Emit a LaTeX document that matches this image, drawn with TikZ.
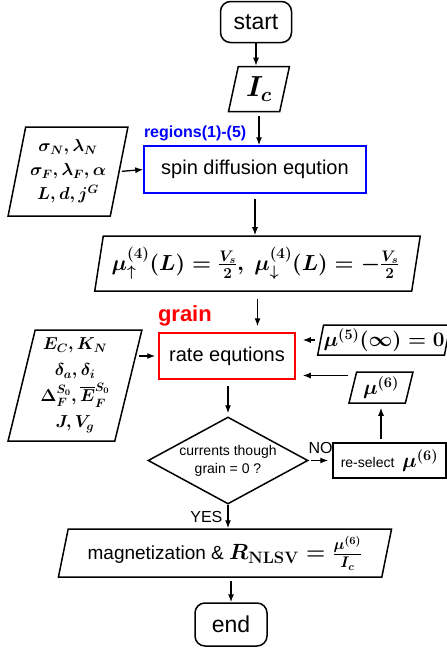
\RequirePackage{fix-cm}
\documentclass[tikz,border=0pt]{standalone}
\usepackage{amsmath,amssymb}
\usepackage[no-math]{fontspec}
\setmainfont{Liberation Sans}
\usepackage{tikz}
\usetikzlibrary{arrows.meta,positioning,shapes.geometric,calc}

\begin{document}
\begin{tikzpicture}[
    x=1pt, y=-1pt,
    line width=1.5pt,
    >={Latex[length=8pt,width=6pt]},
    terminal/.style={draw, rounded corners=10pt, inner sep=0pt, font=\fontsize{23}{27}\selectfont},
    process/.style={draw, inner sep=0pt, font=\fontsize{20}{24}\selectfont},
    io/.style={draw, trapezium, trapezium left angle=76, trapezium right angle=104, trapezium stretches,
               inner sep=0pt, align=center, font=\fontsize{17.3}{24}\selectfont\boldmath},
    decision/.style={draw, diamond, aspect=1.84, inner sep=0pt, align=center, font=\fontsize{14}{18}\selectfont},
    tag/.style={inner sep=0pt, font=\fontsize{16}{19}\selectfont\bfseries},
    lbl/.style={inner sep=0pt, font=\fontsize{16}{19}\selectfont},
    arr/.style={->, line width=1.3pt}
]
    \useasboundingbox (0,0) rectangle (447,651);

    % Main chain
    \node[terminal, minimum width=71pt, minimum height=41pt] (start) at (256,22) {start};
    \node[io, minimum width=61pt, minimum height=45pt, font=\fontsize{29}{32}\selectfont\boldmath] (current) at (259,89) {$I_c$};
    \node[process, draw=blue, minimum width=222pt, minimum height=47pt] (diffusion) at (255,169.5) {spin diffusion eqution};
    \node[io, minimum width=327pt, minimum height=55pt, font=\fontsize{21.8}{26}\selectfont\boldmath] (boundary) at (257.5,263.5)
        {$\mu^{\mathbf{(4)}}_{\uparrow}(L)=\frac{V_s}{\mathbf{2}},\ \mu^{\mathbf{(4)}}_{\downarrow}(L)=-\frac{V_s}{\mathbf{2}}$\hspace{4pt}};
    \node[process, draw=red, minimum width=136pt, minimum height=46pt] (rate) at (227,356) {rate equtions};
    \node[decision, minimum width=160pt, minimum height=87pt] (check) at (228,460.5) {currents though\\grain = 0 ?};
    \node[io, minimum width=334pt, minimum height=48pt, font=\fontsize{19}{22}\selectfont\boldmath] (result) at (225,553)
        {\mdseries magnetization \& {\fontsize{22}{24}\selectfont$R_{\mbox{\fontsize{16.5}{17}\selectfont$\mathbf{NLSV}$}}=\frac{\mu^{\mathbf{(6)}}}{I_c}$}};
    \node[terminal, minimum width=72pt, minimum height=43pt] (end) at (231,624.5) {end};

    % Inputs on the left
    \node[io, minimum width=120pt, minimum height=89pt] (paramsN) at (68,171.5)
        {$\sigma_N,\lambda_N$\\$\sigma_F,\lambda_F,\alpha$\\$L,d,j^G$};
    \node[io, minimum width=134pt, minimum height=111pt, font=\fontsize{17.3}{26}\selectfont\boldmath] (paramsG) at (75,385.5)
        {$E_C,K_N$\\$\delta_a,\delta_i$\\$\Delta_F^{S_0},\overline{E}_F^{S_0}$\\$J,V_g$};

    % Loop on the right
    \node[io, minimum width=130pt, minimum height=30pt, font=\fontsize{20.7}{24}\selectfont\boldmath] (infinity) at (384,340) {$\mu^{\mathbf{(5)}}(\infty)=\mathbf{0}$};
    \node[io, minimum width=64pt, minimum height=31pt, font=\fontsize{20.7}{24}\selectfont\boldmath] (guess) at (381,387.5) {$\mu^{\mathbf{(6)}}$};
    \node[process, minimum width=113pt, minimum height=35pt, font=\fontsize{14}{18}\selectfont] (reselect) at (389.5,460.5)
        {re-select\ \ {\fontsize{20.7}{24}\selectfont\boldmath$\mu^{\mathbf{(6)}}$}};

    % Region tags
    \node[tag, text=blue, anchor=south west, yshift=4pt] (regions) at (diffusion.north west) {regions(1)-(5)};
    \node[tag, text=red, anchor=south west, font=\fontsize{22}{26}\selectfont\bfseries, yshift=5pt, xshift=-1pt] (grain) at (rate.north west) {grain};

    % Edges
    \draw[arr] (start.south) -- (start.south |- current.north);
    \draw[arr, shorten <=4pt] (current.south) -- (current.south |- diffusion.north);
    \draw[arr, shorten <=5pt] (diffusion.south) -- (diffusion.south |- boundary.north);
    \draw[arr, shorten <=2pt] (paramsN.east) -- (diffusion.west);
    \draw[arr, shorten <=7pt, shorten >=6pt] (boundary.south) -- (boundary.south |- rate.north);
    \draw[arr, shorten >=3pt] ([xshift=10pt]paramsG.east |- rate.west) -- (rate.west);
    \draw[arr, shorten <=5pt, shorten >=7pt] (infinity.west) -- (infinity.west -| rate.east);
    \draw[arr, shorten <=4pt, shorten >=7pt] ([yshift=12pt]guess.west) -- ([yshift=12pt]guess.west -| rate.east);
    \draw[arr, shorten <=6pt, shorten >=3pt] (rate.south -| check.north) -- (check.north);
    \draw[arr, shorten <=2pt, shorten >=4pt] (check.east) -- node[lbl, above=6pt] {NO} (reselect.west);
    \draw[arr, shorten <=3pt, shorten >=4pt] (reselect.north -| guess.center) -- (guess.south -| guess.center);
    \draw[arr] (check.south) -- node[lbl, left=5pt] {YES} (check.south |- result.north);
    \draw[arr, shorten <=3pt] (end.north |- result.south) -- (end.north);
\end{tikzpicture}
\end{document}
